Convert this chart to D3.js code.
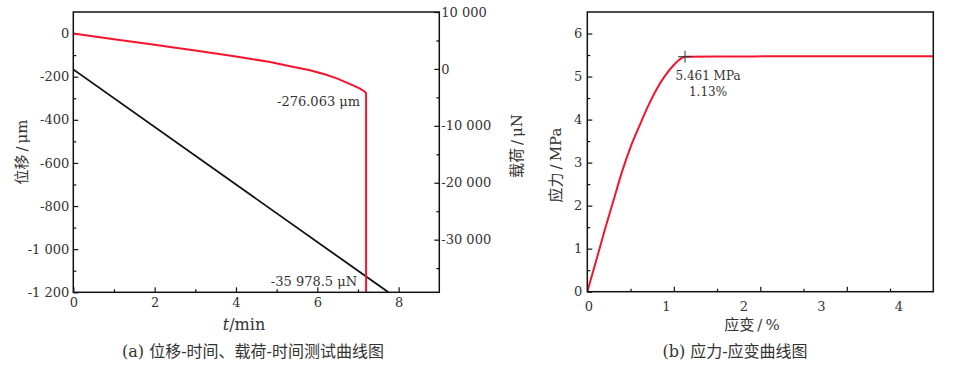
<!DOCTYPE html>
<html>
<head>
<meta charset="utf-8">
<script src="https://cdn.jsdelivr.net/npm/d3@7/dist/d3.min.js"></script>
<style>
	body { margin: 0; background: #fff; }
	text { font-family: 'DejaVu Serif', 'Noto Sans CJK SC', serif; fill: #333; }
	.tick line { stroke: #111; stroke-width: 1.2; }
	.domain { display: none; }
</style>
</head>
<body>
<svg id="chart" width="954" height="368"></svg>
<script>
// (a) displacement vs time (red), load vs time (black)
const dispTime   = [0, 1, 2, 2.38, 3, 4, 4.84, 5.3, 5.82, 6.2, 6.48, 6.88, 7.05, 7.17, 7.2, 7.2]
const dispValues = [0, -26, -52, -62, -79, -106, -132, -150, -170, -190, -208, -240, -255, -270, -276.063, -1300]
const loadTime   = [0, 7.75]
const loadValues = [-100, -39250]
const timeTicks  = [0, 2, 4, 6, 8]
const timeMinor  = [1, 3, 5, 7]
const dispTicks  = [0, -200, -400, -600, -800, -1000, -1200]
const dispMinor  = [-100, -300, -500, -700, -900, -1100]
const loadTicks  = [10000, 0, -10000, -20000, -30000]
const loadMinor  = [5000, -5000, -15000, -25000, -35000]

// (b) stress vs strain
const strain       = [0, 0.1, 0.2, 0.3, 0.4, 0.5, 0.6, 0.7, 0.8, 0.9, 1.0, 1.13, 1.5, 2.5, 4]
const stress       = [0, 0.7, 1.42, 2.1, 2.78, 3.36, 3.84, 4.3, 4.7, 5.02, 5.27, 5.461, 5.466, 5.47, 5.47]
const strainTicks  = [1, 2, 3]
const strainMinor  = [0.5, 1.5, 2.5, 3.5]
const strainLabels = [0, 1, 2, 3, 4]
const stressTicks  = [0, 1, 2, 3, 4, 5, 6]
const stressMinor  = [0.5, 1.5, 2.5, 3.5, 4.5, 5.5]

const fmt = d3.formatLocale({ decimal: '.', thousands: ' ', grouping: [3], currency: ['', ''], minus: '-' }).format(',')

const svg = d3.select('#chart')

// scales
const xT = d3.scaleLinear([0, 9], [73.3, 439.3])
const yD = d3.scaleLinear([-1200, 100], [292.3, 12])
const yL = d3.scaleLinear([-39250, 10000], [292.3, 12])

const xS = d3.scaleLinear([0, 4], [587.3, 933.3])
const xSLabel = d3.scaleLinear([0, 4.45], [588.3, 933.3])	// printed labels sit on their own spacing
const yS = d3.scaleLinear([0, 6.5], [291.7, 12])

const addAxis = (axis, tx, ty, size = 13) => {
	const g = svg.append('g')
		.attr('transform', `translate(${tx},${ty})`)
		.call(axis)
	g.selectAll('text').style('font-size', size + 'px').attr('fill', '#333')
	return g
}

const clip = (id, x, y) => {
	svg.append('clipPath').attr('id', id)
		.append('rect')
		.attr('x', x.range()[0]).attr('y', y.range()[1])
		.attr('width', x.range()[1] - x.range()[0])
		.attr('height', y.range()[0] - y.range()[1])
}

const frame = (x, y) => {
	svg.append('rect')
		.attr('x', x.range()[0]).attr('y', y.range()[1])
		.attr('width', x.range()[1] - x.range()[0])
		.attr('height', y.range()[0] - y.range()[1])
		.attr('fill', 'none').attr('stroke', '#111').attr('stroke-width', 1.5)
}

const label = (text, x, y, size, rotate = false) => {
	return svg.append('text')
		.attr('transform', `translate(${x},${y})` + (rotate ? ' rotate(-90)' : ''))
		.attr('text-anchor', 'middle')
		.style('font-size', size + 'px')
		.text(text)
}

// ---------- panel (a) ----------
clip('clipA', xT, yD)

addAxis(d3.axisBottom(xT).tickValues(timeTicks).tickSize(-5).tickPadding(5).tickFormat(fmt), 0, yD.range()[0])
addAxis(d3.axisBottom(xT).tickValues(timeMinor).tickSize(-3).tickFormat(''), 0, yD.range()[0])
addAxis(d3.axisLeft(yD).tickValues(dispTicks).tickSize(-5).tickPadding(4).tickFormat(fmt), xT.range()[0], 0)
addAxis(d3.axisLeft(yD).tickValues(dispMinor).tickSize(-3).tickFormat(''), xT.range()[0], 0)
addAxis(d3.axisRight(yL).tickValues(loadTicks).tickSize(-5).tickPadding(2).tickFormat(fmt), xT.range()[1], 0)
addAxis(d3.axisRight(yL).tickValues(loadMinor).tickSize(-3).tickFormat(''), xT.range()[1], 0)

svg.append('path')
	.datum(loadTime.map((t, i) => [t, loadValues[i]]))
	.attr('clip-path', 'url(#clipA)')
	.attr('fill', 'none')
	.attr('stroke', '#111')
	.attr('stroke-width', 1.8)
	.attr('d', d3.line().x((d) => xT(d[0])).y((d) => yL(d[1])))

svg.append('path')
	.datum(dispTime.map((t, i) => [t, dispValues[i]]))
	.attr('clip-path', 'url(#clipA)')
	.attr('fill', 'none')
	.attr('stroke', '#f5142d')
	.attr('stroke-width', 2)
	.attr('d', d3.line().x((d) => xT(d[0])).y((d) => yD(d[1])))

frame(xT, yD)

svg.append('text')
	.attr('x', xT(7.2) - 6).attr('y', yD(-276.063) + 13)
	.attr('text-anchor', 'end').style('font-size', '13px')
	.text('-276.063 μm')

svg.append('text')
	.attr('x', xT(7.2) - 9).attr('y', yL(-35978.5) + 12)
	.attr('text-anchor', 'end').style('font-size', '13px')
	.text('-35 978.5 μN')

svg.append('text')
	.attr('x', 244).attr('y', 330)
	.attr('text-anchor', 'middle').style('font-size', '16px')
	.html('<tspan font-style="italic">t</tspan>/min')

label('位移\u2009/\u2009μm', 27, 152, 15, true)
label('载荷\u2009/\u2009μN', 522, 146, 15, true)
label('(a) 位移-时间、载荷-时间测试曲线图', 253, 357, 16)

// ---------- panel (b) ----------
clip('clipB', xS, yS)

addAxis(d3.axisBottom(xS).tickValues(strainTicks).tickSize(-5).tickFormat(''), 0, yS.range()[0])
addAxis(d3.axisBottom(xS).tickValues(strainMinor).tickSize(-3).tickFormat(''), 0, yS.range()[0])
addAxis(d3.axisBottom(xSLabel).tickValues(strainLabels).tickSize(0).tickPadding(10).tickFormat(fmt), 0, yS.range()[0])
addAxis(d3.axisLeft(yS).tickValues(stressTicks).tickSize(-5).tickPadding(5).tickFormat(fmt), xS.range()[0], 0)
addAxis(d3.axisLeft(yS).tickValues(stressMinor).tickSize(-3).tickFormat(''), xS.range()[0], 0)

svg.append('path')
	.datum(strain.map((s, i) => [s, stress[i]]))
	.attr('clip-path', 'url(#clipB)')
	.attr('fill', 'none')
	.attr('stroke', '#f5142d')
	.attr('stroke-width', 2)
	.attr('d', d3.line().curve(d3.curveMonotoneX).x((d) => xS(d[0])).y((d) => yS(d[1])))

frame(xS, yS)

// peak marker
const px = xS(1.13)
const py = yS(5.461)
svg.append('path')
	.attr('d', `M${px - 7},${py}H${px + 7}M${px},${py - 6}V${py + 6}`)
	.attr('stroke', '#333').attr('stroke-width', 1)

svg.append('text')
	.attr('x', px + 23).attr('y', py + 23)
	.attr('text-anchor', 'middle').style('font-size', '12px')
	.text('5.461 MPa')

svg.append('text')
	.attr('x', px + 23).attr('y', py + 39)
	.attr('text-anchor', 'middle').style('font-size', '12px')
	.text('1.13%')

label('应变\u2009/\u2009%', 752, 330, 15)
label('应力\u2009/\u2009MPa', 561, 165, 15, true)
label('(b) 应力-应变曲线图', 735, 357, 16)
</script>
</body>
</html>
